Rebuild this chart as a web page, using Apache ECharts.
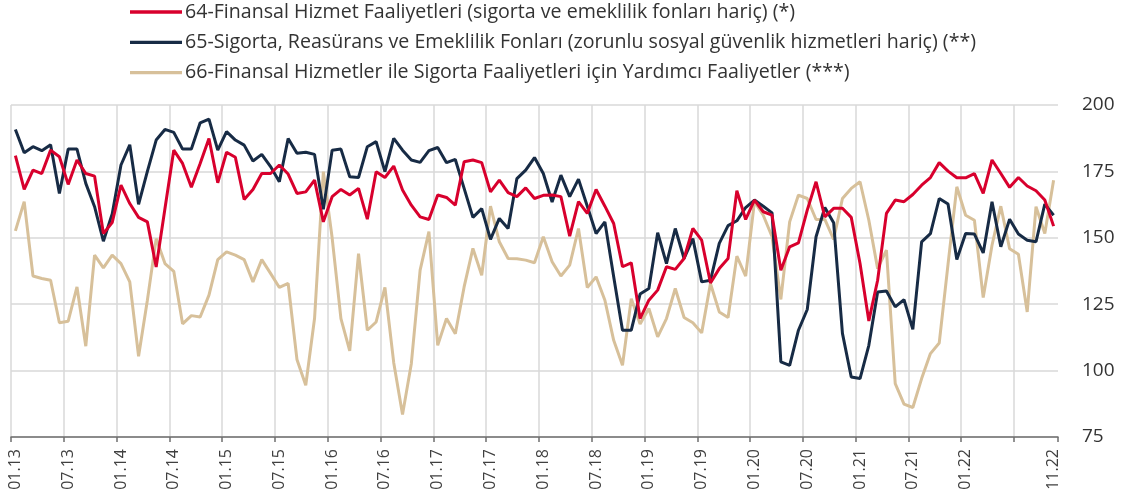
<!DOCTYPE html>
<html>
<head>
<meta charset="utf-8">
<script src="https://cdn.jsdelivr.net/npm/echarts@6/dist/echarts.min.js"></script>
<style>
html,body{margin:0;padding:0;background:#fff;}
#chart{width:1123px;height:503px;}
</style>
</head>
<body>
<div id="chart"></div>
<script>
// Series names
const seriesNames = [
  "64-Finansal Hizmet Faaliyetleri (sigorta ve emeklilik fonları hariç) (*)",
  "65-Sigorta, Reasürans ve Emeklilik Fonları (zorunlu sosyal güvenlik hizmetleri hariç) (**)",
  "66-Finansal Hizmetler ile Sigorta Faaliyetleri için Yardımcı Faaliyetler (***)"
];

// Monthly categories 01.13 .. 11.22
const categories = [];
for (let y = 13; y <= 22; y++) {
  for (let m = 1; m <= 12; m++) {
    if (y === 22 && m > 11) break;
    categories.push((m < 10 ? '0' + m : '' + m) + '.' + y);
  }
}

// Tick labels shown on the x axis
const shownLabels = ['01.13','07.13','01.14','07.14','01.15','07.15','01.16','07.16','01.17','07.17',
  '01.18','07.18','01.19','07.19','01.20','07.20','01.21','07.21','01.22','11.22'];

// 64 - red
const s64 = [
180.9,168.2,175.5,174.2,183,180.5,170.1,179.3,174.2,173.2,151.6,155.7,
169.8,162.9,157.7,156,139,161,183,178,169,178,187.4,170.7,
182.2,180.3,164.4,168.2,174.2,174.2,177.4,174,166.7,167.3,171.7,156,
165.5,168.2,166.1,168.6,157,174.9,172.7,177,168,162.3,157.9,156.9,
166.1,165.2,162.3,178.6,179.3,178.3,167.3,171.7,167,165.5,168.8,164.8,
166,166.1,165.5,150.6,163.6,159.2,168.2,161.9,155.4,139.1,140.6,119.6,
126.5,130.3,139.1,138.1,142.2,153.5,149.1,133,138.4,142.2,167.7,156.9,
164.2,159.8,158.5,137.8,146.6,148.1,160.4,171.1,157.9,161.1,161.1,157.7,
140.3,118.7,134,159.2,164.2,163.6,166.3,169.8,172.7,178.3,175.1,172.6,
172.6,174.2,166.7,179.3,174.2,169,172.7,169.5,167.7,164.2,154.4
];

// 65 - navy
const s65 = [
190.8,182,184.3,182.8,185,166.7,183.4,183.4,170.5,161.7,148.7,159,
177.4,185,162.6,175,186.8,190.8,189.7,183.4,183.4,193.3,194.7,183,
190,186.8,184.9,178.9,181.4,176.8,171.1,187.4,181.8,182.2,181.4,160.7,
183,183.4,173,172.7,184.3,186.2,174.9,187.4,183,179.3,178.4,182.8,
184,178.3,179.5,168.6,157.7,161,149.4,157.3,153.5,172.3,175.5,180.2,
174.2,163.5,173.6,165.5,172.1,161.9,151.6,156,135.3,115.2,115.2,128.8,
130.9,151.9,140.3,153.5,142.2,149.7,133.4,134,147.9,154.6,156.4,161.4,
164.2,161.9,159.4,103.3,102,115.2,123,150.4,161.4,155.7,114,97.6,
97,109.5,129.6,130,124,126.7,115.5,148.5,151.6,164.8,162.7,141.8,
151.6,151.4,144.3,163.6,146.6,157,151.4,149.1,148.5,162.7,158.5
];

// 66 - tan
const s66 = [
152.6,163.6,135.6,134.7,134,118,118.6,131.5,109.2,143.5,138.7,143.5,
140.3,133.4,105.4,126.5,149.7,140.3,137.4,117.6,120.7,120.2,128.4,141.8,
144.7,143.5,141.8,133.4,141.8,136.6,131.3,132.8,104.2,94.5,119.6,174.9,
150,119.6,107.4,144,115.2,118.3,131.3,103,83.5,102.6,137.8,152.3,
109.5,119.6,113.9,131.5,146,135.9,161.9,148.5,142.2,142.1,141.6,140.6,
150.4,141,135.6,139.7,153.5,131.3,135.3,126.5,111.4,102,127.1,117.5,
123.4,112.7,119.6,130.9,120,118,114.2,132.8,122.1,120,143.1,135.6,
163.6,158.5,150.4,126.8,156,166.1,164.8,156.9,156.9,149.4,164.8,168.6,
171.1,156.6,138.4,145.4,95.1,87.4,86.1,97,106.4,110.4,140,169.2,
158.5,156.6,127.5,147.2,161.9,145.9,143.8,122.1,161.7,151.6,171.7
];

const yTicks = {min: 75, max: 200, interval: 25};
const colors = ['#D8002D', '#172B45', '#D7C09A'];

const chart = echarts.init(document.getElementById('chart'), null, {renderer: 'canvas'});
const FONT = 'Open Sans';

chart.setOption({
  animation: false,
  color: colors,
  legend: {
    orient: 'vertical',
    left: 130,
    top: 1,
    padding: 0,
    itemWidth: 52,
    itemHeight: 3.3,
    itemGap: 8.3,
    icon: 'rect',
    textStyle: {fontFamily: FONT, fontSize: 19.6, color: '#333', lineHeight: 22, padding: [0,0,0,-2]},
    data: seriesNames
  },
  grid: {left: 11, right: 65, top: 105, bottom: 66, containLabel: false},
  xAxis: {
    type: 'category',
    data: categories,
    boundaryGap: true,
    axisLine: {lineStyle: {color: '#6f6f6f', width: 1.5}},
    axisTick: {show: true, length: 5, interval: (i) => i % 6 === 0, lineStyle: {color: '#6f6f6f', width: 1.5}},
    axisLabel: {
      interval: (i, v) => shownLabels.indexOf(v) >= 0,
      rotate: 90,
      margin: 12,
      hideOverlap: false,
      fontFamily: FONT, fontSize: 16, color: '#404040'
    },
    splitLine: {show: true, showMaxLine: false, interval: (i) => i % 6 === 0, lineStyle: {color: '#d9d9d9', width: 1.5}}
  },
  yAxis: {
    type: 'value',
    position: 'right',
    min: yTicks.min, max: yTicks.max, interval: yTicks.interval,
    axisLine: {show: false},
    axisTick: {show: false},
    axisLabel: {margin: 24, fontFamily: FONT, fontSize: 19, color: '#333'},
    splitLine: {lineStyle: {color: '#d9d9d9', width: 1.5}}
  },
  series: [
    {name: seriesNames[0], type: 'line', data: s64, symbol: 'none', lineStyle: {width: 3, color: colors[0]}, z: 4},
    {name: seriesNames[1], type: 'line', data: s65, symbol: 'none', lineStyle: {width: 3, color: colors[1]}, z: 3},
    {name: seriesNames[2], type: 'line', data: s66, symbol: 'none', lineStyle: {width: 3, color: colors[2]}, z: 2}
  ]
});
</script>
</body>
</html>
